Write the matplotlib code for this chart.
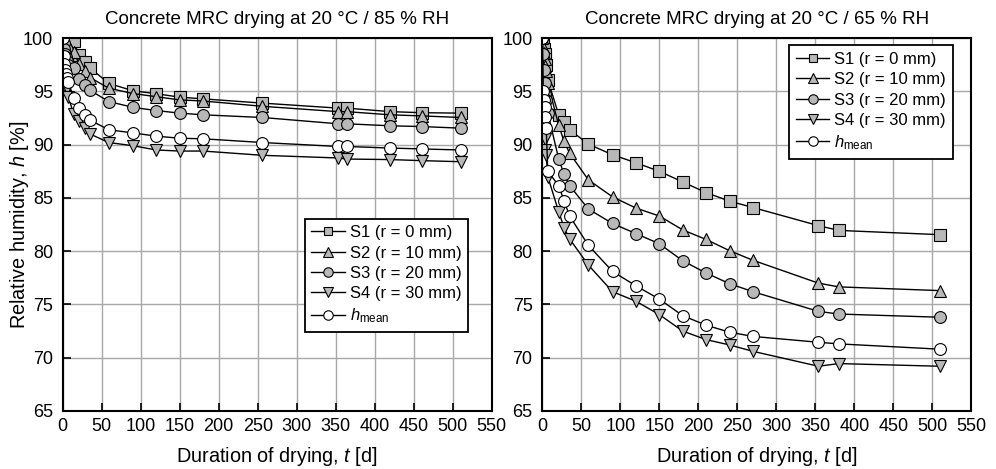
import matplotlib
matplotlib.use("Agg")
import matplotlib.pyplot as plt

plt.rcParams['font.family'] = ['Liberation Sans', 'DejaVu Sans']
plt.rcParams['mathtext.fontset'] = 'custom'
plt.rcParams['mathtext.rm'] = 'Liberation Sans'
plt.rcParams['mathtext.it'] = 'Liberation Sans:italic'
plt.rcParams['font.size'] = 12

# ---------------- data: 85 % RH (left) ----------------
t_L = [0, 1, 2, 3, 4, 5, 7, 14, 21, 28, 35, 59, 90, 120, 150, 180, 256, 353, 364, 420, 460, 510]
S1_L = [100, 100, 100, 99.9, 99.9, 99.9, 99.8, 99.7, 98.4, 97.8, 97.2, 95.75, 95.06, 94.78, 94.46, 94.3, 93.9, 93.43, 93.43, 93.1, 93.0, 92.96]
S2_L = [100, 99.9, 99.8, 99.7, 99.6, 99.5, 99.4, 98.7, 97.6, 96.9, 96.3, 95.3, 94.8, 94.5, 94.2, 94.1, 93.6, 93.1, 93.1, 92.8, 92.7, 92.55]
S3_L = [100, 99.5, 99.0, 98.5, 98.2, 97.9, 97.5, 97.2, 96.15, 95.6, 95.1, 94.05, 93.5, 93.2, 92.96, 92.8, 92.55, 91.96, 91.96, 91.77, 91.7, 91.55]
S4_L = [100, 98.0, 97.0, 96.2, 95.8, 95.3, 94.5, 92.9, 92.2, 91.6, 91.0, 90.2, 89.9, 89.5, 89.4, 89.4, 89.0, 88.75, 88.65, 88.6, 88.5, 88.4]
HM_L = [100, 98.3, 97.6, 97.0, 96.6, 96.3, 95.9, 94.4, 93.4, 92.8, 92.3, 91.4, 91.1, 90.8, 90.6, 90.55, 90.2, 89.83, 89.83, 89.68, 89.6, 89.5]

# ---------------- data: 65 % RH (right) ----------------
t_R = [0, 1, 2, 3, 4, 5, 7, 21, 28, 35, 59, 90, 120, 150, 180, 210, 240, 270, 354, 380, 510]
S1_R = [100, 99.5, 99.0, 98.5, 98.0, 97.5, 96.1, 92.8, 92.1, 91.4, 90.05, 89.05, 88.3, 87.5, 86.5, 85.5, 84.7, 84.1, 82.4, 81.95, 81.55]
S2_R = [100, 99.2, 98.6, 98.0, 97.4, 96.9, 95.8, 91.8, 90.3, 89.2, 86.7, 85.1, 84.05, 83.3, 82.0, 81.1, 80.05, 79.15, 77.0, 76.65, 76.3]
S3_R = [100, 98.5, 97.0, 95.8, 94.8, 94.2, 93.0, 88.65, 87.2, 86.15, 83.96, 82.6, 81.65, 80.7, 79.1, 77.95, 76.95, 76.2, 74.35, 74.1, 73.8]
S4_R = [100, 94.0, 92.0, 90.5, 89.5, 89.0, 87.0, 83.7, 82.2, 81.15, 78.7, 76.2, 75.3, 74.05, 72.5, 71.7, 71.2, 70.6, 69.2, 69.45, 69.2]
HM_R = [100, 95.0, 94.2, 93.5, 92.6, 91.6, 87.5, 86.15, 84.7, 83.3, 80.55, 78.1, 76.75, 75.5, 73.95, 73.05, 72.4, 72.0, 71.45, 71.3, 70.8]

labels = ["S1 (r = 0 mm)", "S2 (r = 10 mm)", "S3 (r = 20 mm)", "S4 (r = 30 mm)", r"$h_{\mathrm{mean}}$"]
titles = ["Concrete MRC drying at 20 \u00b0C / 85 % RH", "Concrete MRC drying at 20 \u00b0C / 65 % RH"]
x_ticks = list(range(0, 551, 50))
y_ticks = list(range(65, 101, 5))

grey = '#b8b8b8'
styles = [
    dict(marker='s', ms=8, mfc=grey),
    dict(marker='^', ms=9, mfc=grey),
    dict(marker='o', ms=8.5, mfc=grey),
    dict(marker='v', ms=9, mfc=grey),
    dict(marker='o', ms=8.5, mfc='white'),
]

fig = plt.figure(figsize=(9.96, 4.69), dpi=100)
ax1 = fig.add_axes([0.063, 0.1237, 0.4307, 0.795])
ax2 = fig.add_axes([0.5445, 0.1237, 0.4307, 0.795])

panels = [
    (ax1, t_L, [S1_L, S2_L, S3_L, S4_L, HM_L], titles[0]),
    (ax2, t_R, [S1_R, S2_R, S3_R, S4_R, HM_R], titles[1]),
]

for ax, t, series, title in panels:
    for ys, st, lab in zip(series, styles, labels):
        ax.plot(t, ys, color='black', lw=1.0, mec='black', mew=0.8, label=lab, **st)
    ax.set_xlim(0, 550)
    ax.set_ylim(65, 100)
    ax.set_xticks(x_ticks)
    ax.set_yticks(y_ticks)
    ax.grid(True, color='#a8a8a8', lw=1.0)
    ax.set_axisbelow(True)
    ax.tick_params(direction='in', length=6, width=1.2, labelsize=13, top=False, right=False)
    ax.tick_params(axis='x', pad=5)
    ax.tick_params(axis='y', pad=7)
    for sp in ax.spines.values():
        sp.set_linewidth(1.5)
    ax.set_title(title, fontsize=13.5, pad=10)
    ax.set_xlabel(r"Duration of drying, $t$ [d]", fontsize=14.3, labelpad=7)

ax1.set_ylabel(r"Relative humidity, $h$ [%]", fontsize=14.3)
ax1.yaxis.set_label_coords(-0.074, 0.5)

leg_kw = dict(frameon=True, fancybox=False, shadow=False, framealpha=1,
              edgecolor='black', fontsize=12, handlelength=2.0, handletextpad=0.3,
              labelspacing=0.32, borderpad=0.4, borderaxespad=0, markerscale=0.8)
l1 = ax1.legend(loc='lower right', bbox_to_anchor=(0.945, 0.212), **leg_kw)
l2 = ax2.legend(loc='upper right', bbox_to_anchor=(0.957, 0.981), **leg_kw)
for l in (l1, l2):
    l.get_frame().set_linewidth(1.3)

fig.savefig("out.png", dpi=100)
